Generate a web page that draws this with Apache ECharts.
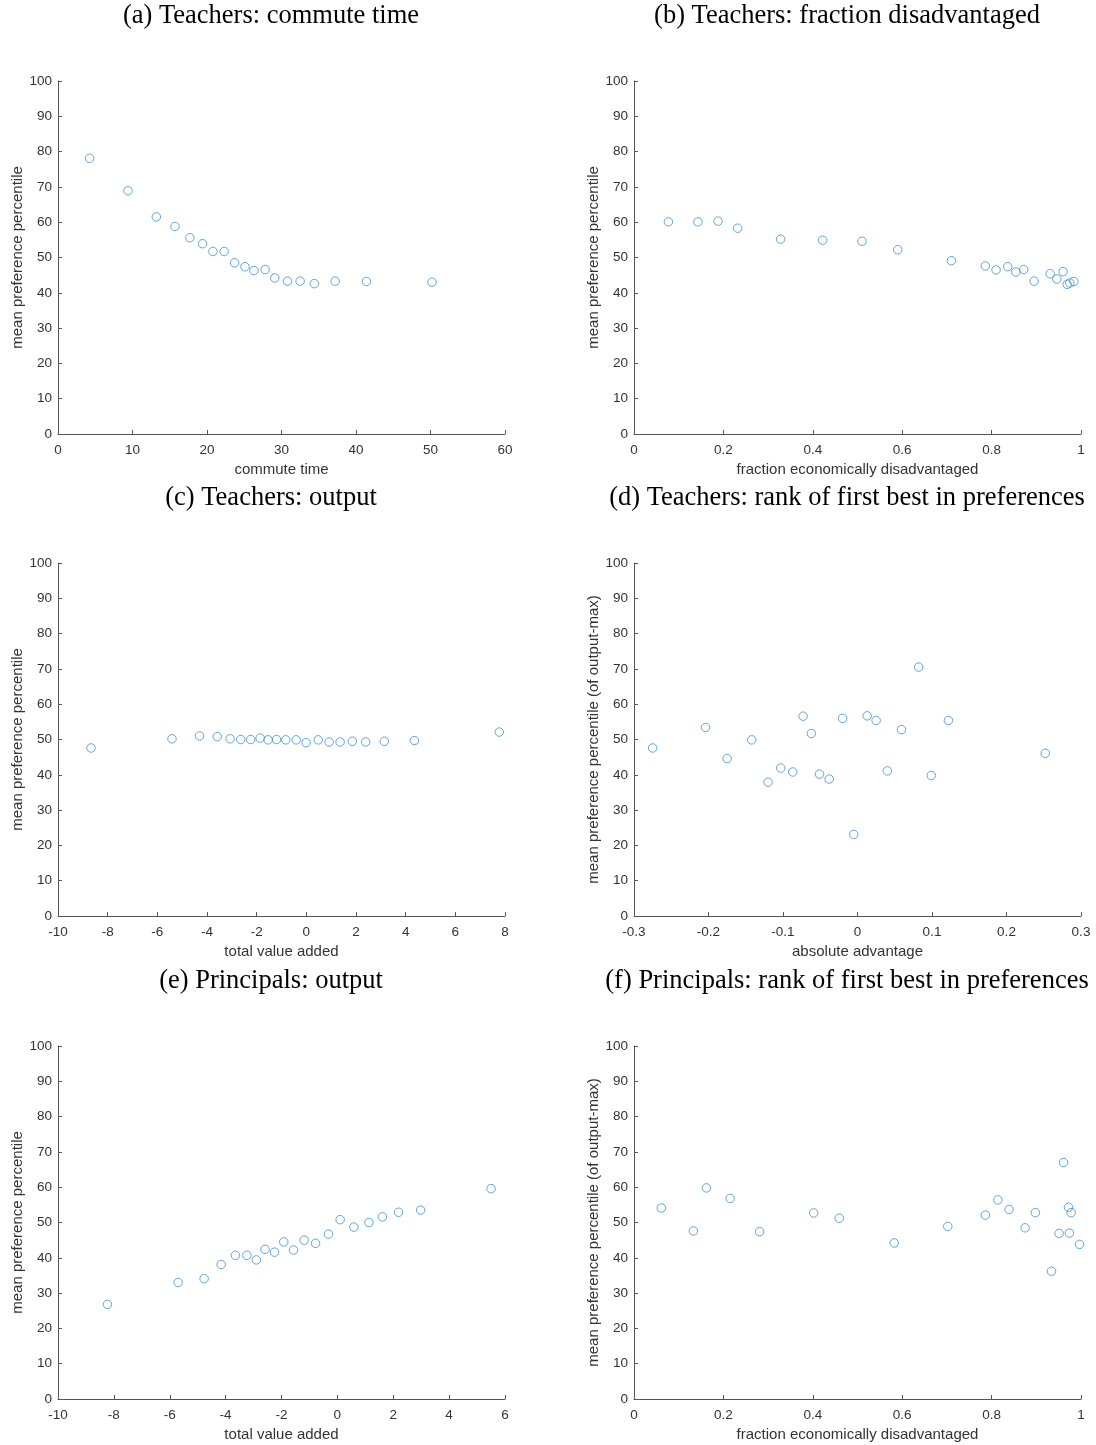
<!DOCTYPE html>
<html>
<head>
<meta charset="utf-8">
<script src="https://cdn.jsdelivr.net/npm/echarts@6/dist/echarts.min.js"></script>
<style>
html,body{margin:0;padding:0;background:#fff;}
#chart{width:1096px;height:1445px;}
</style>
</head>
<body>
<div id="chart"></div>
<script>
// (a) Teachers: commute time
const commuteX = [4.25, 9.4, 13.2, 15.7, 17.7, 19.4, 20.8, 22.3, 23.7, 25.1, 26.3, 27.8, 29.1, 30.8, 32.5, 34.4, 37.2, 41.4, 50.2];
const commuteY = [78.1, 68.9, 61.5, 58.8, 55.6, 53.9, 51.7, 51.7, 48.5, 47.4, 46.3, 46.6, 44.2, 43.3, 43.3, 42.6, 43.3, 43.2, 43.0];
// (b) Teachers: fraction disadvantaged
const fracTX = [0.077, 0.143, 0.188, 0.232, 0.328, 0.422, 0.510, 0.590, 0.710, 0.786, 0.810, 0.836, 0.854, 0.872, 0.895, 0.931, 0.946, 0.960, 0.969, 0.975, 0.984];
const fracTY = [60.1, 60.1, 60.3, 58.3, 55.2, 54.9, 54.6, 52.2, 49.1, 47.6, 46.5, 47.4, 45.9, 46.6, 43.3, 45.4, 43.9, 46.0, 42.4, 42.8, 43.2];
// (c) Teachers: output
const outTX = [-8.67, -5.41, -4.30, -3.59, -3.07, -2.64, -2.24, -1.86, -1.54, -1.20, -0.83, -0.41, -0.01, 0.48, 0.92, 1.36, 1.85, 2.39, 3.14, 4.35, 7.77];
const outTY = [47.6, 50.2, 51.0, 50.8, 50.2, 50.0, 50.0, 50.4, 49.9, 50.0, 49.9, 49.9, 49.1, 49.9, 49.3, 49.3, 49.5, 49.3, 49.5, 49.7, 52.1];
// (d) Teachers: rank of first best in preferences
const advTX = [-0.275, -0.204, -0.175, -0.142, -0.120, -0.103, -0.087, -0.073, -0.062, -0.051, -0.038, -0.020, -0.005, 0.013, 0.025, 0.040, 0.059, 0.082, 0.099, 0.122, 0.252];
const advTY = [47.6, 53.4, 44.6, 49.9, 37.9, 41.9, 40.8, 56.6, 51.7, 40.2, 38.8, 56.0, 23.1, 56.7, 55.4, 41.1, 52.8, 70.5, 39.8, 55.4, 46.1];
// (e) Principals: output
const outPX = [-8.23, -5.70, -4.77, -4.16, -3.65, -3.24, -2.90, -2.59, -2.25, -1.92, -1.57, -1.19, -0.78, -0.32, 0.10, 0.59, 1.13, 1.61, 2.19, 2.98, 5.50];
const outPY = [26.8, 33.0, 34.1, 38.1, 40.7, 40.7, 39.4, 42.4, 41.6, 44.5, 42.2, 45.0, 44.1, 46.7, 50.8, 48.7, 50.0, 51.6, 52.9, 53.5, 59.6];
// (f) Principals: rank of first best in preferences
const fracPX = [0.061, 0.133, 0.162, 0.215, 0.281, 0.402, 0.459, 0.582, 0.702, 0.786, 0.814, 0.839, 0.875, 0.898, 0.934, 0.951, 0.961, 0.972, 0.974, 0.978, 0.997];
const fracPY = [54.1, 47.6, 59.8, 56.8, 47.4, 52.7, 51.2, 44.2, 48.9, 52.1, 56.4, 53.7, 48.5, 52.8, 36.2, 46.9, 67.0, 54.3, 47.0, 52.8, 43.8];

const titles = [
  '(a) Teachers: commute time',
  '(b) Teachers: fraction disadvantaged',
  '(c) Teachers: output',
  '(d) Teachers: rank of first best in preferences',
  '(e) Principals: output',
  '(f) Principals: rank of first best in preferences'
];
const xNames = ['commute time', 'fraction economically disadvantaged', 'total value added', 'absolute advantage', 'total value added', 'fraction economically disadvantaged'];
const yNames = ['mean preference percentile', 'mean preference percentile', 'mean preference percentile', 'mean preference percentile (of output-max)', 'mean preference percentile', 'mean preference percentile (of output-max)'];
const xRanges = [[0, 60, 10], [0, 1, 0.2], [-10, 8, 2], [-0.3, 0.3, 0.1], [-10, 6, 2], [0, 1, 0.2]];
const yTicks = [0, 100, 10];
const seriesX = [commuteX, fracTX, outTX, advTX, outPX, fracPX];
const seriesY = [commuteY, fracTY, outTY, advTY, outPY, fracPY];

const textColor = '#333';
const lineColor = '#555';
const sans = '"Liberation Sans", Arial, sans-serif';
const lefts = [58, 634];
const tops = [81, 563, 1046];
const W = 447, H = 353;
const titleCx = [271, 847];
const titleCy = [16, 498, 981];

const grids = [], xAxes = [], yAxes = [], series = [], graphics = [];
for (let i = 0; i < 6; i++) {
  const col = i % 2, row = Math.floor(i / 2);
  grids.push({left: lefts[col], top: tops[row], width: W, height: H, containLabel: false});
  const xr = xRanges[i];
  xAxes.push({
    type: 'value', gridIndex: i, min: xr[0], max: xr[1], interval: xr[2],
    name: xNames[i], nameLocation: 'middle', nameGap: 28,
    nameTextStyle: {fontFamily: sans, fontSize: 15, color: textColor},
    axisLine: {show: true, onZero: false, lineStyle: {color: lineColor, width: 1}},
    axisTick: {show: true, inside: true, length: 4, lineStyle: {color: lineColor}},
    axisLabel: {fontFamily: sans, fontSize: 13.5, color: textColor, margin: 9,
      formatter: v => String(Math.round(v * 1000) / 1000)},
    splitLine: {show: false}
  });
  yAxes.push({
    type: 'value', gridIndex: i, min: yTicks[0], max: yTicks[1], interval: yTicks[2],
    name: yNames[i], nameLocation: 'middle', nameGap: 33,
    nameTextStyle: {fontFamily: sans, fontSize: 15, color: textColor},
    axisLine: {show: true, onZero: false, lineStyle: {color: lineColor, width: 1}},
    axisTick: {show: true, inside: true, length: 4, lineStyle: {color: lineColor}},
    axisLabel: {fontFamily: sans, fontSize: 13.5, color: textColor, margin: 6},
    splitLine: {show: false}
  });
  series.push({
    type: 'scatter', xAxisIndex: i, yAxisIndex: i,
    data: seriesX[i].map((x, k) => [x, seriesY[i][k]]),
    symbol: 'circle', symbolSize: 8.5,
    itemStyle: {color: 'rgba(0,0,0,0)', borderColor: '#3b8ed6', borderWidth: 1},
    silent: true
  });
  graphics.push({
    type: 'text', x: titleCx[col], y: titleCy[row],
    style: {text: titles[i], textAlign: 'center', textVerticalAlign: 'middle',
      font: '26.5px "Liberation Serif", "Times New Roman", serif', fill: '#000'}
  });
}

const chart = echarts.init(document.getElementById('chart'), null, {renderer: 'canvas'});
chart.setOption({
  animation: false,
  backgroundColor: '#fff',
  grid: grids, xAxis: xAxes, yAxis: yAxes, series: series,
  graphic: graphics
});
</script>
</body>
</html>
